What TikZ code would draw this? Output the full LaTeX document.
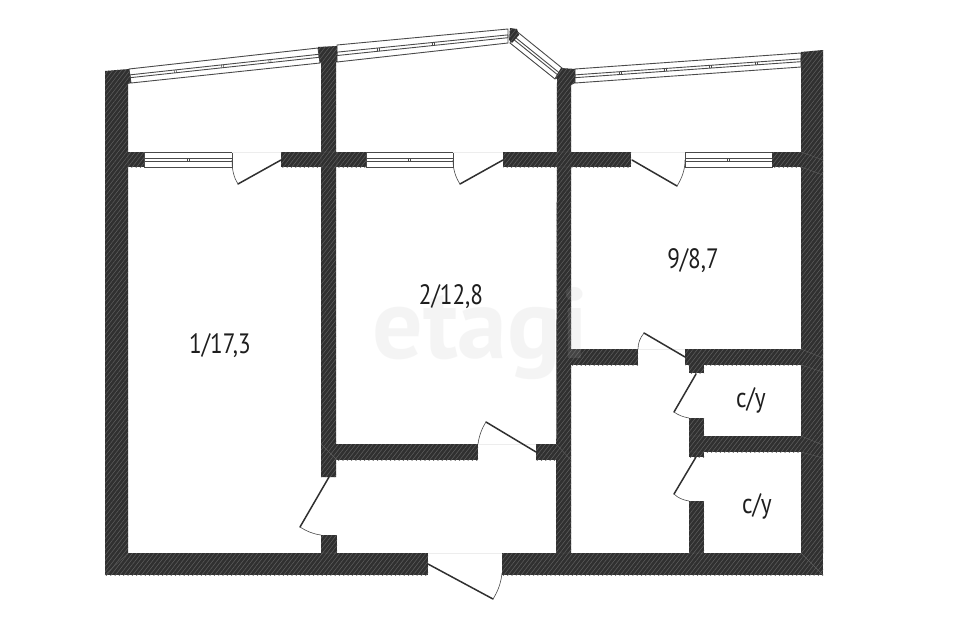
\documentclass[tikz,border=0pt]{standalone}
\usepackage{fontspec}
\setmainfont{PT Sans}
\usetikzlibrary{patterns.meta,calc}
\definecolor{wallc}{HTML}{303030}
\definecolor{hatchc}{HTML}{5E5E5E}
\definecolor{glassc}{HTML}{4A4A4A}
\definecolor{sillc}{HTML}{EDEDED}
\definecolor{markc}{HTML}{BBBBBB}
\definecolor{textc}{HTML}{1E1E1E}
\tikzset{
  wall/.style={fill=wallc,postaction={pattern={Lines[angle=52,distance=3.4pt,line width=.55pt]},pattern color=hatchc}},
  seam/.style={draw=hatchc,line width=.4pt},
  leaf/.style={draw=wallc,line width=1.5pt,line cap=round},
  swing/.style={draw=glassc,line width=.6pt},
  sill/.style={draw=sillc,line width=1pt},
  glass/.style={draw=glassc,line width=.9pt},
  label/.style={font=\fontsize{28}{28}\selectfont,text=textc,inner sep=0pt,anchor=base},
}
\newcommand{\narrowtext}[1]{\scalebox{.83}[1]{#1}}
% slanted or straight glazing: outer edge a-b, inner edge c-d, tick positions
\newcommand{\glazing}[5]{%
  \draw[glass,fill=white] #1 -- #2 -- #4 -- #3 -- cycle;
  \coordinate (ga) at ($#1!.42!#3$);\coordinate (gb) at ($#2!.42!#4$);
  \coordinate (gc) at ($#1!.62!#3$);\coordinate (gd) at ($#2!.62!#4$);
  \draw[glass] (ga) -- (gb) (gc) -- (gd) (ga) -- (gc) (gb) -- (gd);
  \foreach \t in {#5}{%
    \draw[glass,line width=.5pt] ($(ga)!\t!(gb)+(-1,0)$) -- ($(gc)!\t!(gd)+(-1,0)$)
      ($(ga)!\t!(gb)+(1,0)$) -- ($(gc)!\t!(gd)+(1,0)$);}
}
\newcommand{\wallbox}[4]{\path[wall] (#1,#2) rectangle (#3,#4);}
\begin{document}
\begin{tikzpicture}[x=1pt,y=-1pt]
\useasboundingbox (0,0) rectangle (960,640);
\fill[white] (0,0) rectangle (960,640);
% glazing
\glazing{(129,69)}{(318,48)}{(131,83)}{(320,63)}{.24,.49,.74}
\glazing{(337,45)}{(508,29)}{(337,62)}{(508,43)}{.24,.56}
\glazing{(515,30)}{(562,68)}{(510,43)}{(555,79)}{}
\glazing{(575,69)}{(801,53)}{(575,83)}{(801,67)}{.2,.4,.6,.8}
\glazing{(144,152)}{(232,152)}{(144,167)}{(232,167)}{.5}
\glazing{(366,152)}{(453,152)}{(366,167)}{(453,167)}{.5}
\glazing{(685,152)}{(772,152)}{(685,167)}{(772,167)}{.5}
% door sills
\draw[sill] (232,152) -- (281,152) (453,152) -- (503,152) (631,152) -- (685,152)
  (638,349) -- (685,349) (478,444) -- (536,444) (428,553) -- (502,553);
% outer walls
\path[wall] (105,71) -- (129,69) -- (131,83) -- (128,84) -- (128,553) -- (105,553) -- cycle;
\wallbox{105}{553}{428}{575}
\wallbox{502}{553}{823}{575}
\path[wall] (801,52) -- (823,50) -- (823,553) -- (801,553) -- cycle;
% balcony wall
\wallbox{128}{152}{144}{167}
\wallbox{281}{152}{366}{167}
\wallbox{503}{152}{631}{167}
\wallbox{772}{152}{801}{167}
% first partition
\path[wall] (318,47) -- (337,46) -- (337,62) -- (336,62) -- (336,477) -- (321,477) -- (321,62) -- (320,63) -- cycle;
\wallbox{321}{535}{337}{553}
\wallbox{336}{444}{478}{460}
\wallbox{536}{444}{557}{460}
% second partition
\path[wall] (561,68) -- (575,69) -- (575,83) -- (571,85) -- (571,553) -- (556,553) -- (557,79) -- (555,78) -- cycle;
\path[wall] (510,28) -- (517,29) -- (519,35) -- (512,43) -- (509,40) -- cycle;
% storage walls
\wallbox{571}{349}{638}{365}
\wallbox{685}{349}{801}{365}
\wallbox{689}{365}{704}{373}
\wallbox{689}{418}{704}{457}
\wallbox{704}{436}{801}{452}
\wallbox{689}{501}{704}{553}
% faint seams at wall junctions
\draw[seam] (128,152) -- (128,167) (321,152) rectangle (337,167) (557,152) rectangle (571,167)
  (321,444) -- (337,460) (556,444) -- (571,460) (801,167) -- (823,175) (801,152) -- (823,160)
  (801,349) -- (823,358) (801,365) -- (823,372) (801,436) -- (823,445) (801,452) -- (823,458)
  (689,436) -- (704,436) (689,452) -- (704,452) (321,553) -- (337,553) (556,553) -- (571,553)
  (689,553) -- (704,553) (801,553) -- (823,575) (128,553) -- (105,575);
% watermark over plan
\node[font=\fontsize{100}{100}\bfseries\selectfont,text=markc,text opacity=.15,inner sep=0pt,anchor=base west] (mark) at (372,358) {etagi};
% door leaves and swings
\draw[leaf] (281,160) -- (238,184);
\draw[swing] (238,184) .. controls (234,178) and (232,170) .. (232,160);
\draw[leaf] (503,160) -- (460,184);
\draw[swing] (460,184) .. controls (456,178) and (453,170) .. (453,160);
\draw[leaf] (632,160) -- (677,186);
\draw[swing] (677,186) .. controls (682,178) and (685,170) .. (685,160);
\draw[leaf] (685,357) -- (644,333);
\draw[swing] (644,333) .. controls (640,338) and (638,343) .. (638,349);
\draw[leaf] (696,374) -- (674,412);
\draw[swing] (674,412) .. controls (678,415) and (683,417) .. (689,418);
\draw[leaf] (696,457) -- (674,494);
\draw[swing] (674,494) .. controls (678,498) and (683,500) .. (689,501);
\draw[leaf] (329,477) -- (300,527);
\draw[swing] (300,527) .. controls (306,531) and (313,534) .. (321,535);
\draw[leaf] (536,452) -- (486,422);
\draw[swing] (486,422) .. controls (482,428) and (479,436) .. (478,444);
\draw[leaf] (428,564) -- (493,599);
\draw[swing] (493,599) .. controls (498,591) and (501,583) .. (502,573);
% labels
\node[label] (r1) at (220,353) {\narrowtext{1/17,3}};
\node[label] (r2) at (451,304) {\narrowtext{2/12,8}};
\node[label] (r9) at (693,268) {\narrowtext{9/8,7}};
\node[label] (s1) at (751,407) {\narrowtext{c/y}};
\node[label] (s2) at (757,513) {\narrowtext{c/y}};
\end{tikzpicture}
\end{document}
